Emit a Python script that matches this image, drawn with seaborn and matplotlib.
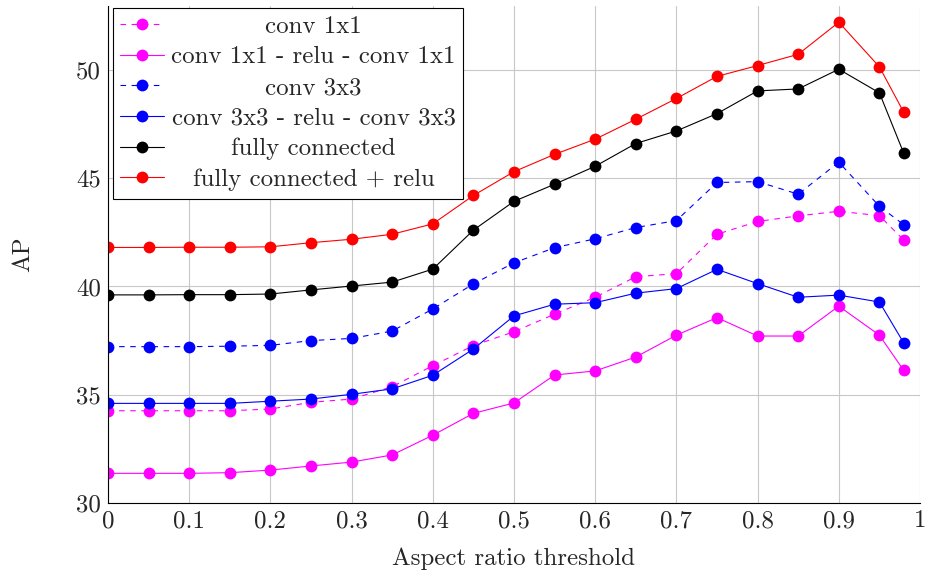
import matplotlib
matplotlib.use("Agg")
import matplotlib.pyplot as plt
import seaborn as sns

thresholds = [0, 0.05, 0.1, 0.15, 0.2, 0.25, 0.3, 0.35, 0.4, 0.45, 0.5,
              0.55, 0.6, 0.65, 0.7, 0.75, 0.8, 0.85, 0.9, 0.95, 0.98]

conv1x1 = [34.26, 34.26, 34.26, 34.26, 34.34, 34.65, 34.8, 35.37, 36.34, 37.27, 37.91,
           38.72, 39.5, 40.45, 40.59, 42.41, 43.0, 43.26, 43.47, 43.27, 42.14]
conv1x1_relu = [31.37, 31.37, 31.37, 31.4, 31.52, 31.71, 31.89, 32.22, 33.13, 34.14, 34.62,
                35.91, 36.1, 36.74, 37.75, 38.56, 37.71, 37.71, 39.09, 37.75, 36.12]
conv3x3 = [37.22, 37.22, 37.22, 37.24, 37.28, 37.5, 37.6, 37.94, 38.96, 40.12, 41.09,
           41.79, 42.2, 42.72, 43.04, 44.8, 44.84, 44.26, 45.74, 43.7, 42.85]
conv3x3_relu = [34.6, 34.6, 34.6, 34.6, 34.7, 34.8, 35.02, 35.27, 35.9, 37.11, 38.64,
                39.18, 39.25, 39.69, 39.9, 40.79, 40.13, 39.5, 39.6, 39.28, 37.39]
fully_connected = [39.61, 39.61, 39.62, 39.62, 39.65, 39.84, 40.02, 40.2, 40.8, 42.6, 43.93,
                   44.72, 45.55, 46.6, 47.18, 47.98, 49.03, 49.12, 50.03, 48.94, 46.15]
fully_connected_relu = [41.8, 41.8, 41.81, 41.81, 41.83, 42.02, 42.18, 42.41, 42.89, 44.2, 45.3,
                        46.1, 46.8, 47.72, 48.68, 49.7, 50.2, 50.72, 52.2, 50.14, 48.04]

x_ticks = [0, 0.1, 0.2, 0.3, 0.4, 0.5, 0.6, 0.7, 0.8, 0.9, 1.0]
x_tick_labels = ["0", "0.1", "0.2", "0.3", "0.4", "0.5", "0.6", "0.7", "0.8", "0.9", "1"]
y_ticks = [30, 35, 40, 45, 50]
y_tick_labels = ["30", "35", "40", "45", "50"]

series = [
    ("conv 1x1", conv1x1, "#ff00ff", True),
    ("conv 1x1 - relu - conv 1x1", conv1x1_relu, "#ff00ff", False),
    ("conv 3x3", conv3x3, "#0000ff", True),
    ("conv 3x3 - relu - conv 3x3", conv3x3_relu, "#0000ff", False),
    ("fully connected", fully_connected, "black", False),
    ("fully connected + relu", fully_connected_relu, "#ff0000", False),
]

sns.set_style("white")
plt.rcParams["font.family"] = ["cmr10", "DejaVu Serif"]
plt.rcParams["mathtext.fontset"] = "cm"
plt.rcParams["axes.unicode_minus"] = False
plt.rcParams["lines.scale_dashes"] = False

fs = 17.9
fig = plt.figure(figsize=(9.25, 5.75), dpi=100)
ax = fig.add_axes([108 / 925, 72 / 575, 812 / 925, 497 / 575])

lw = 0.8
for name, vals, color, dashed in series:
    ls = (0, (4.0, 4.0)) if dashed else "-"
    sns.lineplot(x=thresholds, y=vals, ax=ax, color=color, linewidth=lw,
                 linestyle=ls, marker="o", markersize=8.5, markeredgewidth=0,
                 label=name)

ax.set_xlim(0, 1)
ax.set_ylim(30, 52.95)
ax.set_xticks(x_ticks)
ax.set_xticklabels(x_tick_labels)
ax.set_yticks(y_ticks)
ax.set_yticklabels(y_tick_labels)
ax.tick_params(axis="both", direction="in", length=4, width=0.6, color="#606060",
               labelsize=fs, pad=5)
ax.grid(True, color="#c8c8c8", linewidth=0.8)
ax.set_axisbelow(True)
for side in ["top", "right"]:
    ax.spines[side].set_visible(False)
for side in ["left", "bottom"]:
    ax.spines[side].set_color("black")
    ax.spines[side].set_linewidth(0.8)

ax.set_xlabel("Aspect ratio threshold", fontsize=fs, labelpad=11)
ax.set_ylabel("AP", fontsize=fs, labelpad=30)

leg = ax.legend(loc="upper left", bbox_to_anchor=(5 / 812, 495 / 497), borderaxespad=0,
                fancybox=False, edgecolor="black", framealpha=1, fontsize=fs,
                handlelength=1.75, handletextpad=0.3, labelspacing=0.33,
                borderpad=0.3)
leg.get_frame().set_linewidth(0.8)

# center label texts inside the legend, like pgfplots does
fig.canvas.draw()
renderer = fig.canvas.get_renderer()
widths = [t.get_window_extent(renderer).width for t in leg.get_texts()]
wmax = max(widths)
for t, w in zip(leg.get_texts(), widths):
    t.set_x((wmax - w) / 2)

fig.savefig("out.png", dpi=100)
